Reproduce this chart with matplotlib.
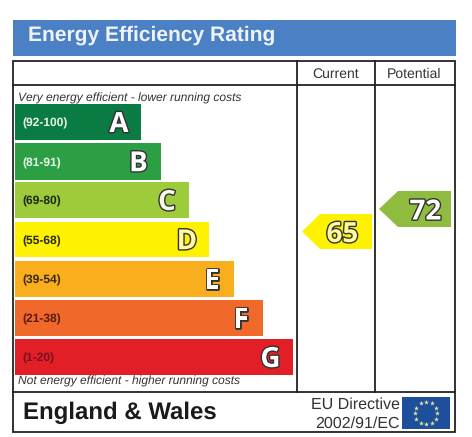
import matplotlib
matplotlib.use("Agg")
import matplotlib.pyplot as plt
import matplotlib.patheffects as pe
import numpy as np
from matplotlib.patches import Polygon, Rectangle

plt.rcParams['font.family'] = 'Liberation Sans'
plt.rcParams['text.hinting'] = 'no_hinting'
plt.rcParams['text.hinting_factor'] = 1

title = "Energy Efficiency Rating"
columns = ["Current", "Potential"]
band_letters = ["A", "B", "C", "D", "E", "F", "G"]
band_ranges = ["(92-100)", "(81-91)", "(69-80)", "(55-68)", "(39-54)", "(21-38)", "(1-20)"]
band_colors = ["#0a7c43", "#2c9f45", "#9dcb3b", "#fff200", "#f8ae1d", "#f0692a", "#e21f26"]
range_colors = ["#e8f3ea", "#e8f3ea", "#1a2a10", "#2a2a10", "#3a2a10", "#5a1a10", "#7a1020"]
letter_fills = ["#ffffff", "#ffffff", "#f4f8e4", "#fff9a0", "#ffffff", "#ffffff", "#ffffff"]
band_right = [141, 160.5, 189, 209, 234, 263, 292.5]
band_top = [104, 143, 182, 221.5, 260.5, 299.5, 339]
band_bottom = [140, 179.5, 218, 257, 297, 335.5, 375]
current_value = 65
potential_value = 72
top_note = "Very energy efficient - lower running costs"
bottom_note = "Not energy efficient - higher running costs"
region = "England & Wales"
directive = ["EU Directive", "2002/91/EC"]

W, H = 472, 437
fig = plt.figure(figsize=(W / 100, H / 100), dpi=100, facecolor="white")
ax = fig.add_axes([0, 0, 1, 1])
ax.set_xlim(0, W)
ax.set_ylim(H, 0)
ax.axis("off")

INK = "#222222"

# header
ax.add_patch(Rectangle((13, 19.5), 442.5, 36.5, fc="#4b80c4", ec="none"))
ax.text(28, 41, title, color="#eef3fa", fontsize=14.85, fontweight="bold", va="baseline", ha="left")

# table frame
ax.add_patch(Rectangle((13, 61), 442, 371, fc="none", ec=INK, lw=1.3, zorder=3))
ax.plot([13, 455], [85, 85], color=INK, lw=1.3, zorder=3)
ax.plot([13, 455], [392, 392], color=INK, lw=1.3, zorder=3)
ax.plot([297, 297], [61, 392], color=INK, lw=1.3, zorder=3)
ax.plot([375, 375], [61, 392], color=INK, lw=1.3, zorder=3)

ax.text(336, 78, columns[0], fontsize=9.8, color="#333333", ha="center", va="baseline")
ax.text(414, 78, columns[1], fontsize=9.8, color="#333333", ha="center", va="baseline")

ax.text(18, 101.5, top_note, fontsize=8.6, style="italic", color="#333333", ha="left", va="baseline")
ax.text(18, 385, bottom_note, fontsize=8.6, style="italic", color="#333333", ha="left", va="baseline")


def outlined(x, y, s, fill, size):
    ax.text(x, y, s, fontsize=size, fontweight="bold", ha="center", va="baseline", color=fill, zorder=6,
            family="Open Sans",
            path_effects=[pe.withStroke(linewidth=2.0, foreground="#333333")])


for i, letter in enumerate(band_letters):
    t, b, r = band_top[i], band_bottom[i], band_right[i]
    ax.barh((t + b) / 2, r - 15, height=b - t, left=15, color=band_colors[i], zorder=2)
    ax.text(22.5, (t + b) / 2 + 4.8, band_ranges[i], fontsize=8.8, fontweight="bold",
            color=range_colors[i], ha="left", va="baseline", zorder=5)
    outlined(r - 22, (t + b) / 2 + 10, letter, letter_fills[i], 20)


def arrow(tip, notch, right, top, bottom, color, value, fill, label_x):
    mid = (top + bottom) / 2
    ax.add_patch(Polygon([(tip, mid), (notch, top), (right, top), (right, bottom), (notch, bottom)],
                         closed=True, fc=color, ec="none", zorder=2))
    outlined(label_x, mid + 10.5, str(value), fill, 20)


arrow(302, 320, 372, 214, 249, band_colors[3], current_value, "#fff9a0", 342.5)
arrow(379, 398, 451, 191, 227, "#8fbc3f", potential_value, "#ffffff", 425.5)

# footer
ax.text(23, 419, region, fontsize=17.3, fontweight="bold", color="#1a1a1a", ha="left", va="baseline")
ax.text(399.5, 409, directive[0], fontsize=11.2, color="#333333", ha="right", va="baseline")
ax.text(399.5, 428, directive[1], fontsize=11.2, color="#333333", ha="right", va="baseline")

# EU flag
ax.add_patch(Rectangle((402, 397), 48, 32, fc="#1d4f9c", ec="none", zorder=2))
angles = np.deg2rad(np.arange(0, 360, 30))
ax.scatter(426 + 11 * np.cos(angles), 413 + 11 * np.sin(angles), marker="*", s=14,
           color="#e8e6a0", linewidths=0, zorder=3)

fig.savefig("out.png", dpi=100, facecolor="white")
